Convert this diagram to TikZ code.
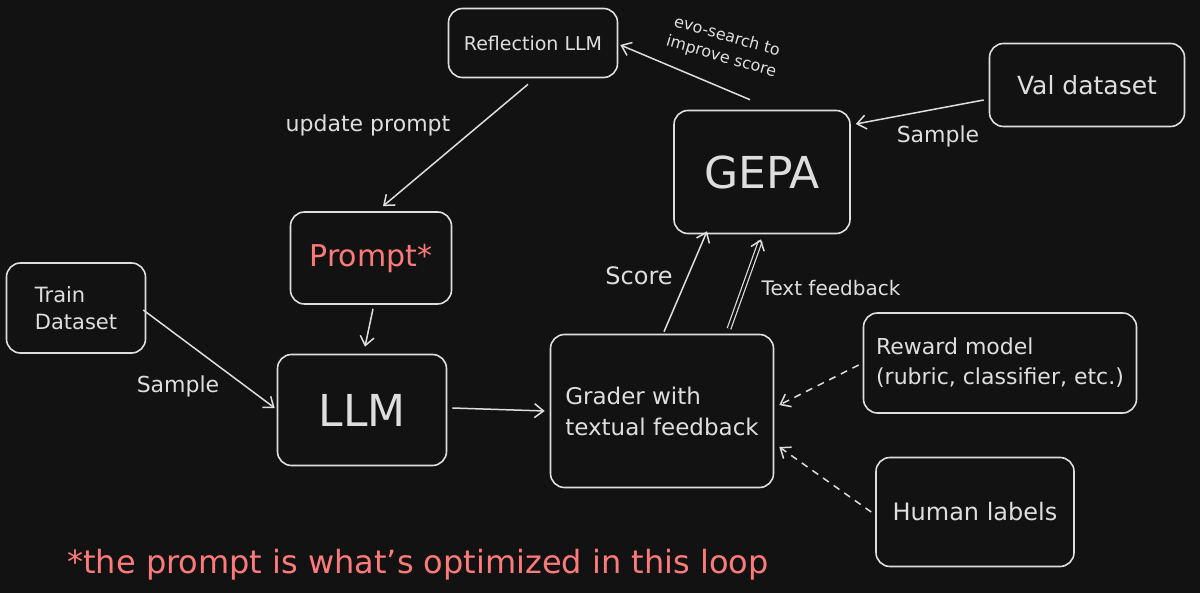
\documentclass[tikz,border=0pt]{standalone}
\usepackage{fontspec}
\setmainfont{DejaVu Sans}
\usetikzlibrary{arrows.meta,calc}
\definecolor{bg}{HTML}{121212}
\definecolor{ink}{HTML}{DEDEDE}
\definecolor{salmon}{HTML}{FF7B7B}
\newcommand{\fs}[1]{\fontsize{#1}{1.3\dimexpr#1pt\relax}\selectfont}
\begin{document}
\begin{tikzpicture}[x=1pt,y=-1pt,
  box/.style={draw=ink,line width=1.6pt,rounded corners=14pt,text=ink,inner sep=0pt},
  arr/.style={draw=ink,line width=1.5pt,-{Straight Barb[length=9pt,width=14pt,line width=1.5pt]}},
  darr/.style={arr,dash pattern=on 7pt off 6pt},
  lbl/.style={text=ink,font=\fs{22}}]
\fill[bg] (0,0) rectangle (1200,593);
\useasboundingbox (0,0) rectangle (1200,593);
% nodes
\node[box,minimum width=169pt,minimum height=69pt,font=\fs{19}] (refl) at (533,43) {Reflection LLM};
\node[box,minimum width=195pt,minimum height=83pt,font=\fs{25}] (val) at (1087,85) {Val dataset};
\node[box,minimum width=176pt,minimum height=123pt,font=\fs{44}] (gepa) at (762,172) {GEPA};
\node[box,minimum width=161pt,minimum height=92pt,text=salmon,font=\fs{30}] (prompt) at (371,258) {Prompt*};
\node[box,minimum width=139pt,minimum height=90pt,align=left,font=\fontsize{21}{27}\selectfont] (train) at (76,308) {Train\\Dataset};
\node[box,minimum width=169pt,minimum height=111pt,font=\fs{44}] (llm) at (362,410) {LLM};
\node[box,minimum width=223pt,minimum height=153pt,align=left,font=\fontsize{23}{31}\selectfont] (grader) at (662,411) {Grader with\\textual feedback};
\node[box,minimum width=273pt,minimum height=100pt,align=left,font=\fontsize{22}{30}\selectfont] (reward) at (1000,363) {Reward model\\(rubric, classifier, etc.)};
\node[box,minimum width=198pt,minimum height=109pt,font=\fs{24}] (human) at (975,512) {Human labels};
\node[text=salmon,font=\fs{32}] (foot) at (418,565) {*the prompt is what's optimized in this loop};
% connectors
\draw[arr] ([xshift=-12pt,yshift=10pt]gepa.north) -- ([xshift=2pt,yshift=-2pt]refl.east);
\draw[arr] ([xshift=-5pt,yshift=-6pt]refl.south) -- ([xshift=12pt,yshift=5pt]prompt.north);
\draw[arr] ([xshift=2pt,yshift=-4pt]prompt.south) -- ([xshift=3pt,yshift=7pt]llm.north);
\draw[arr] ([xshift=-3pt,yshift=-2pt]train.east) -- ([xshift=-2pt,yshift=2pt]llm.west);
\draw[arr] ([xshift=5pt,yshift=2pt]llm.east) -- ([xshift=-5pt]grader.west);
\draw[arr] ([xshift=2pt,yshift=2pt]grader.north) -- ([xshift=-55pt,yshift=3pt]gepa.south);
\draw[arr,double=bg,double distance=2.5pt,line width=1.2pt] ([xshift=67pt,yshift=5pt]grader.north) -- ([xshift=-1pt,yshift=-5pt]gepa.south);
\draw[arr] ([xshift=-5pt,yshift=-15pt]val.west) -- ([xshift=5pt,yshift=48pt]gepa.east);
\draw[darr] ([xshift=-4pt,yshift=-2pt]reward.west) -- ([xshift=5pt,yshift=6pt]grader.east);
\draw[darr] ([xshift=-4pt]human.west) -- ([xshift=5pt,yshift=-36pt]grader.east);
% labels
\node[lbl] (l1) at (368,125) {update prompt};
\node[lbl] (l2) at (178,386) {Sample};
\node[lbl,font=\fs{24}] (l3) at (639,276) {Score};
\node[lbl,font=\fs{20}] (l4) at (831,288) {Text feedback};
\node[lbl] (l5) at (938,136) {Sample};
\node[lbl,font=\fontsize{16}{21}\selectfont,rotate=-16,align=center] (l6) at (724,47) {evo-search to\\improve score};
\end{tikzpicture}
\end{document}
